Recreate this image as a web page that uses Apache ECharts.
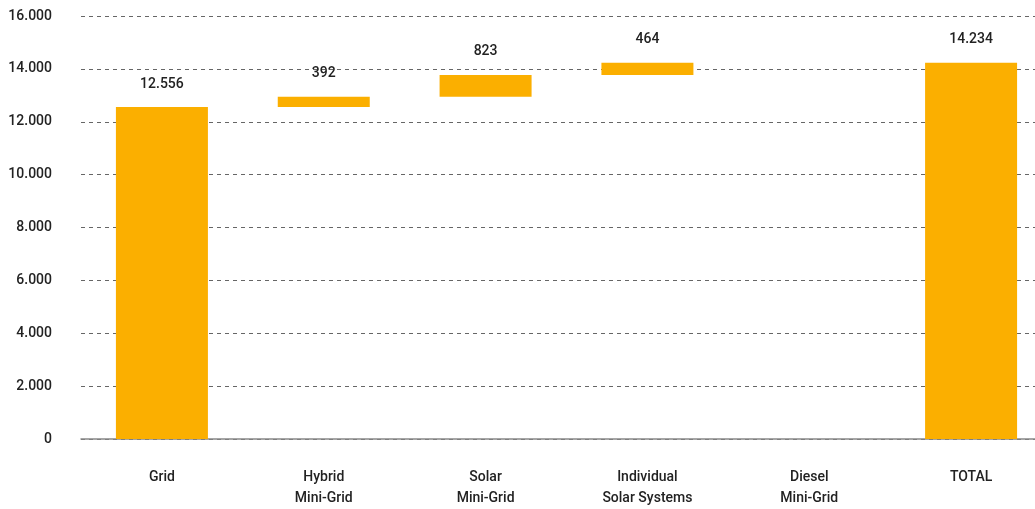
<!DOCTYPE html>
<html><head><meta charset="utf-8">
<script src="https://cdn.jsdelivr.net/npm/echarts@6/dist/echarts.min.js"></script>
<style>html,body{margin:0;padding:0;background:#fff}#wrap{position:relative;width:1035px;height:509px;overflow:hidden}#c{position:absolute;left:0;top:0;width:1052px;height:509px}</style>
</head><body><div id="wrap"><div id="c"></div></div>
<script>
const categories = ['Grid', 'Hybrid\nMini-Grid', 'Solar\nMini-Grid', 'Individual\nSolar Systems', 'Diesel\nMini-Grid', 'TOTAL'];
const values = [12556, 392, 823, 464, 0, 14234];
const isTotal = [false, false, false, false, false, true];

// cumulative base for waterfall steps
const bases = [];
let run = 0;
values.forEach((v, i) => {
  if (isTotal[i]) { bases.push(0); }
  else { bases.push(run); run += v; }
});
const fmt = v => String(v).replace(/\B(?=(\d{3})+(?!\d))/g, '.');
const FONT = 'Roboto';
const chart = echarts.init(document.getElementById('c'));
chart.setOption({
  animation: false,
  textStyle: { fontFamily: FONT },
  grid: { left: 81, right: 0, top: 16, bottom: 64 },
  xAxis: {
    type: 'category', data: categories,
    axisTick: { show: false },
    axisLine: { lineStyle: { color: '#888', width: 1.5 } },
    axisLabel: { color: '#222', fontSize: 14, fontWeight: 500, fontFamily: FONT, margin: 28, lineHeight: 21 }
  },
  yAxis: {
    type: 'value', min: 0, max: 16000, interval: 2000,
    axisLine: { show: false }, axisTick: { show: false },
    axisLabel: { color: '#222', fontSize: 14, fontWeight: 500, fontFamily: FONT, margin: 29, formatter: fmt },
    splitLine: { lineStyle: { color: '#666', type: [4, 4], width: 1 } }
  },
  series: [
    {
      type: 'bar', stack: 'w', barWidth: 92, silent: true,
      itemStyle: { color: 'transparent' },
      data: bases
    },
    {
      type: 'bar', stack: 'w', barWidth: 92,
      itemStyle: { color: '#FBAF00' },
      label: {
        show: true, position: 'top', distance: 16, color: '#222',
        fontSize: 14, fontWeight: 500, fontFamily: FONT,
        formatter: p => p.value ? fmt(p.value) : ''
      },
      data: values
    }
  ]
});
</script></body></html>
